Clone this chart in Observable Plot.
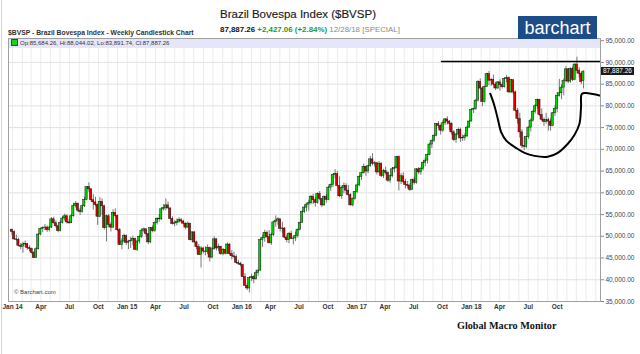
<!DOCTYPE html>
<html><head><meta charset="utf-8">
<script src="https://cdn.jsdelivr.net/npm/d3@7"></script>
<script src="https://cdn.jsdelivr.net/npm/@observablehq/plot@0.6"></script>
<style>
body{margin:0;background:#fff;font-family:"Liberation Sans",Arial,sans-serif;}
#wrap{position:relative;width:640px;height:354px;overflow:hidden;background:#fff;}
#wrap svg{position:absolute;left:0;top:0;}
.abs{position:absolute;white-space:nowrap;}
</style></head><body><div id="wrap"></div>
<script>
// Weekly OHLC of the Bovespa index, in thousands of points (one candle per week, Dec 30 2013 ... Dec 24 2018)
const open = [
51.5,51.0,49.3,49.2,47.8,47.6,48.1,48.2,47.3,47.1,46.2,45.0,47.0,50.4,51.7,51.9,52.0,51.4,52.0,53.9,53.0,52.3,51.2,53.1,54.1,54.6,53.2,53.0,54.6,57.0,57.5,55.9,55.6,56.9,58.4,61.3,60.8,58.3,57.8,57.2,54.5,57.9,56.9,51.9,54.6,52.6,52.0,55.4,54.7,51.4,48.0,48.8,
50.1,48.5,48.8,49.0,49.4,46.9,48.8,49.9,51.3,51.6,50.5,48.6,51.9,51.2,53.1,54.0,53.9,56.2,56.5,57.1,56.4,54.0,52.8,53.0,53.3,53.7,53.4,52.9,52.0,52.9,49.1,50.9,48.6,47.5,45.7,47.2,46.5,46.4,47.3,45.1,47.0,49.3,47.2,47.6,45.9,46.9,46.0,48.1,45.9,45.4,45.2,43.9,
43.7,43.4,40.6,38.6,38.0,40.4,40.6,40.1,41.5,42.1,49.1,49.6,50.8,49.8,48.4,50.3,53.2,53.6,53.9,51.7,51.8,49.7,49.1,50.6,49.4,49.5,50.1,51.5,53.1,55.6,56.6,57.3,57.6,59.1,58.3,57.7,59.7,58.6,57.1,59.0,58.4,61.2,61.8,64.1,64.3,61.6,59.2,61.1,61.6,60.5,59.5,57.1,58.6,
60.2,61.7,63.7,64.5,66.0,64.9,66.1,67.7,66.7,66.8,64.7,66.7,63.9,65.0,64.6,62.8,63.8,65.4,65.7,68.2,62.6,63.8,62.5,61.8,61.6,60.7,62.9,62.3,65.4,64.7,65.5,66.9,67.4,68.7,71.1,71.9,73.1,75.8,75.4,74.3,76.0,76.9,76.4,75.9,73.9,72.2,73.4,74.5,72.5,72.6,73.0,75.0,
76.4,79.1,79.3,81.2,85.5,84.0,80.9,84.4,87.3,85.8,86.0,84.9,84.0,85.4,84.8,84.3,86.2,86.4,83.1,85.9,83.1,78.9,77.0,73.9,70.8,70.6,72.8,75.0,76.6,78.6,79.9,81.4,77.9,76.8,76.3,76.7,76.4,75.4,78.3,79.3,82.3,82.9,84.2,85.7,88.4,85.6,88.5,86.0,89.5,88.1,87.4,85.684
];
const high = [
51.7,51.3,50.2,49.6,48.3,48.6,48.9,48.3,47.8,47.3,46.5,47.4,50.6,51.8,52.2,52.7,52.4,52.4,54.3,54.4,53.6,52.6,53.5,54.6,55.1,55.0,53.9,55.0,57.6,58.0,57.6,56.4,57.2,59.0,61.4,62.3,61.0,59.6,59.0,57.4,58.9,58.6,57.2,54.9,55.0,53.1,56.1,56.3,54.9,51.8,49.5,50.5,
50.3,49.0,49.8,50.0,49.6,49.1,50.1,51.7,51.9,51.7,50.6,52.0,52.4,53.3,54.3,55.0,56.6,57.3,58.6,57.9,56.6,54.5,53.6,54.0,54.3,54.1,53.7,53.1,53.3,53.0,51.0,51.0,48.9,48.1,47.6,47.5,47.6,48.0,47.5,47.5,49.9,49.4,48.2,47.7,47.2,47.0,48.5,48.3,46.7,46.4,45.7,44.5,
44.0,43.4,41.4,39.2,40.6,41.3,40.9,42.1,42.3,49.4,50.3,51.4,51.2,51.3,50.7,53.4,54.7,54.3,54.0,53.2,52.0,50.3,50.8,51.2,49.9,51.0,51.7,53.3,55.9,57.0,57.6,58.3,59.4,59.7,58.9,60.0,60.3,58.7,59.3,59.6,61.5,62.0,64.3,65.3,64.9,63.7,61.5,62.3,62.1,61.7,59.8,58.8,60.3,
62.0,63.9,64.6,66.6,66.1,66.3,68.4,69.0,67.2,67.0,67.2,66.9,65.4,65.9,64.8,64.1,65.8,66.1,68.4,68.5,64.4,64.6,63.1,62.6,62.1,63.2,63.5,65.6,65.8,65.8,67.2,68.0,68.9,71.4,72.2,73.5,75.9,76.4,75.6,76.6,77.0,77.5,76.6,76.1,74.3,73.6,74.9,74.9,73.3,73.6,75.3,76.6,
79.3,79.5,81.5,85.8,86.2,84.3,84.6,87.5,87.9,86.3,87.1,85.4,85.6,86.0,85.3,86.5,87.0,86.6,86.1,86.0,83.4,79.4,78.3,74.5,72.8,73.0,75.2,77.0,79.0,80.3,81.6,81.5,79.3,77.2,78.3,77.2,77.0,78.4,80.0,83.0,86.1,84.8,86.2,89.0,88.6,88.8,88.9,89.7,91.2,88.8,87.7,88.044
];
const low = [
50.2,49.1,48.9,47.6,46.9,46.1,47.4,46.8,46.5,45.9,44.9,44.9,46.9,50.1,50.9,51.3,50.9,51.0,51.8,52.8,51.9,50.8,51.0,52.8,53.5,52.8,52.7,52.9,54.4,56.5,55.5,54.8,55.3,56.6,58.2,60.1,57.9,56.0,56.8,52.5,54.3,54.8,51.4,48.7,52.0,51.0,51.8,54.2,51.1,47.9,46.9,48.5,
47.9,46.9,47.2,47.8,46.7,46.5,48.2,49.5,50.8,49.8,48.1,48.3,50.8,50.9,52.6,53.2,53.6,55.8,55.9,56.3,53.8,52.6,52.2,52.4,53.0,53.0,52.6,51.5,51.8,48.9,48.5,48.4,46.9,45.6,42.7,45.9,45.5,45.8,44.1,44.8,46.8,46.6,46.5,45.6,45.5,45.7,45.9,45.6,44.6,44.8,43.7,43.3,
43.0,40.5,38.5,37.5,37.0,39.6,39.1,39.9,40.8,42.0,47.4,48.6,49.4,48.2,47.9,49.9,52.1,52.5,51.0,50.7,49.5,48.5,48.3,49.2,48.0,48.8,49.6,51.2,52.9,55.2,55.6,55.8,57.2,57.3,56.7,57.4,58.2,56.6,56.9,57.6,58.2,60.3,61.2,63.2,61.3,58.9,58.5,59.8,59.5,59.2,57.0,56.8,58.3,
59.8,61.4,62.8,64.3,63.8,64.4,65.9,66.2,65.9,64.1,64.4,63.5,63.3,64.1,62.4,62.2,63.4,64.6,65.5,60.4,61.9,62.1,60.9,60.9,60.3,60.5,61.8,62.0,64.2,64.0,65.0,66.0,66.6,68.5,70.2,71.6,72.9,74.7,73.3,73.9,75.5,75.6,74.3,73.3,71.8,71.4,72.8,71.6,71.8,71.9,72.7,74.8,
76.3,78.2,78.9,80.9,83.7,79.8,80.7,84.2,84.7,84.5,84.6,83.5,83.8,83.4,83.9,84.1,85.3,82.9,82.8,82.6,78.6,75.8,72.6,70.2,69.7,70.1,72.3,74.0,76.2,78.1,79.3,77.6,76.4,75.3,75.8,74.2,74.2,75.2,77.6,78.4,82.0,81.4,82.3,85.3,85.1,85.2,85.6,85.8,87.4,86.4,84.9,83.892
];
const close = [
51.0,49.3,49.2,47.8,47.6,48.1,48.2,47.3,47.1,46.2,45.0,47.0,50.4,51.7,51.9,52.0,51.4,52.0,53.9,53.0,52.3,51.2,53.1,54.1,54.6,53.2,53.0,54.6,57.0,57.5,55.9,55.6,56.9,58.4,61.3,60.8,58.3,57.8,57.2,54.5,57.9,56.9,51.9,54.6,52.6,52.0,55.4,54.7,51.4,48.0,48.8,50.1,
48.5,48.8,49.0,49.4,46.9,48.8,49.9,51.3,51.6,50.5,48.6,51.9,51.2,53.1,54.0,53.9,56.2,56.5,57.1,56.4,54.0,52.8,53.0,53.3,53.7,53.4,52.9,52.0,52.9,49.1,50.9,48.6,47.5,45.7,47.2,46.5,46.4,47.3,45.1,47.0,49.3,47.2,47.6,45.9,46.9,46.0,48.1,45.9,45.4,45.2,43.9,43.7,
43.4,40.6,38.6,38.0,40.4,40.6,40.1,41.5,42.1,49.1,49.6,50.8,49.8,48.4,50.3,53.2,53.6,53.9,51.7,51.8,49.7,49.1,50.6,49.4,49.5,50.1,51.5,53.1,55.6,56.6,57.3,57.6,59.1,58.3,57.7,59.7,58.6,57.1,59.0,58.4,61.2,61.8,64.1,64.3,61.6,59.2,61.1,61.6,60.5,59.5,57.1,58.6,60.2,
61.7,63.7,64.5,66.0,64.9,66.1,67.7,66.7,66.8,64.7,66.7,63.9,65.0,64.6,62.8,63.8,65.4,65.7,68.2,62.6,63.8,62.5,61.8,61.6,60.7,62.9,62.3,65.4,64.7,65.5,66.9,67.4,68.7,71.1,71.9,73.1,75.8,75.4,74.3,76.0,76.9,76.4,75.9,73.9,72.2,73.4,74.5,72.5,72.6,73.0,75.0,76.4,
79.1,79.3,81.2,85.5,84.0,80.9,84.4,87.3,85.8,86.0,84.9,84.0,85.4,84.8,84.3,86.2,86.4,83.1,85.9,83.1,78.9,77.0,73.9,70.8,70.6,72.8,75.0,76.6,78.6,79.9,81.4,77.9,76.8,76.3,76.7,76.4,75.4,78.3,79.3,82.3,82.9,84.2,85.7,88.4,85.6,88.5,86.0,89.5,88.1,87.4,85.460,87.887
];

// Axis ticks and labels
const yTicks = [35000,40000,45000,50000,55000,60000,65000,70000,75000,80000,85000,90000,95000];
const xTickDates = ["2014-01-01","2014-04-01","2014-07-01","2014-10-01","2015-01-01","2015-04-01","2015-07-01","2015-10-01","2016-01-01","2016-04-01","2016-07-01","2016-10-01","2017-01-01","2017-04-01","2017-07-01","2017-10-01","2018-01-01","2018-04-01","2018-07-01","2018-10-01"].map(s => new Date(s));
const xTickLabels = ["Jan 14","Apr","Jul","Oct","Jan 15","Apr","Jul","Oct","Jan 16","Apr","Jul","Oct","Jan 17","Apr","Jul","Oct","Jan 18","Apr","Jul","Oct"];

// Hand-drawn annotations (in data coordinates)
const resistanceDates = ["2017-09-28","2019-02-13"];
const resistanceValues = [90200, 90200];
const cupDates = ["2018-03-02","2018-03-15","2018-03-26","2018-04-06","2018-04-22","2018-05-24","2018-06-19","2018-07-21","2018-09-01","2018-10-03","2018-11-04","2018-11-25","2018-12-11","2018-12-16","2018-12-19","2019-01-07","2019-02-13"];
const cupValues = [82800,80100,77000,73900,72000,70300,69200,68500,68300,69200,71300,73300,75900,79700,82800,82900,82400];

const lastClose = 87887.26;

// ---- build tables ----
const weeks = d3.utcMonday.range(new Date(Date.UTC(2013,11,30)), new Date(Date.UTC(2018,11,25)));
if ([open,high,low,close].some(a => a.length !== weeks.length)) throw new Error("length mismatch " + weeks.length + " " + [open,high,low,close].map(a=>a.length));
const candles = weeks.map((date, i) => ({date, open: open[i]*1000, high: high[i]*1000, low: low[i]*1000, close: close[i]*1000}));
const resistance = resistanceDates.map((d, i) => ({date: new Date(d), value: resistanceValues[i]}));
const cup = cupDates.map((d, i) => ({date: new Date(d), value: cupValues[i]}));
const labelMap = new Map(xTickDates.map((d, i) => [+d, xTickLabels[i]]));
const monthLines = d3.utcMonth.range(new Date("2014-01-01"), new Date("2019-02-02"));

const chart = Plot.plot({
  width: 640, height: 354,
  marginLeft: 8, marginRight: 40, marginTop: 38, marginBottom: 53,
  x: {type: "utc", domain: [new Date("2013-12-19"), new Date("2019-02-16")], axis: null},
  y: {domain: [35000, 95500], axis: null},
  color: {type: "identity"},
  style: {fontFamily: "'Liberation Sans', Arial, sans-serif", background: "transparent", overflow: "visible"},
  marks: [
    Plot.ruleX(monthLines, {stroke: "#ececec", strokeWidth: 1}),
    Plot.ruleY(yTicks, {stroke: "#e2e2e2", strokeWidth: 1}),
    Plot.ruleX(candles, {x: "date", y1: "low", y2: "high", stroke: "#6a6a6a", strokeWidth: 0.9}),
    Plot.rect(candles, {
      x1: d => d3.utcDay.offset(d.date, -3.4), x2: d => d3.utcDay.offset(d.date, 3.4),
      y1: "open", y2: "close",
      fill: d => d.close >= d.open ? "#00d800" : "#e00000",
      stroke: "#161616", strokeWidth: 0.5
    }),
    Plot.line(resistance, {x: "date", y: "value", stroke: "#000", strokeWidth: 1.6}),
    Plot.line(cup, {x: "date", y: "value", stroke: "#000", strokeWidth: 2, curve: "catmull-rom"}),
    Plot.frame({stroke: "#a0a0a0"}),
    Plot.axisX(xTickDates, {tickSize: 0, tickPadding: 3, tickFormat: d => labelMap.get(+d), fontSize: 6.5, fontWeight: "bold", fill: "#333"}),
    Plot.axisY(yTicks, {anchor: "right", tickSize: 3, tickPadding: 2, tickFormat: d3.format(",.2f"), fontSize: 6.5, fill: "#444", stroke: "#888"})
  ]
});

const wrap = document.getElementById("wrap");
wrap.appendChild(chart);

function addDiv(html, css) {
  const el = document.createElement("div");
  el.className = "abs";
  el.innerHTML = html;
  Object.assign(el.style, css);
  wrap.appendChild(el);
  return el;
}
// left page edge line
addDiv("", {left: "1px", top: "0px", width: "1px", height: "354px", background: "#d4d4d4"});
// title
addDiv("Brazil Bovespa Index ($BVSP)", {left: "220px", top: "8px", fontSize: "11.5px", color: "#1a1a1a", webkitTextStroke: "0.15px #1a1a1a"});
addDiv('<b style="color:#111">87,887.26</b> <b style="color:#1f9a2a">+2,427.06 (+2.84%)</b> <span style="color:#8a8a8a">12/28/18 [SPECIAL]</span>',
  {left: "220px", top: "25px", fontSize: "7.9px"});
addDiv("$BVSP - Brazil Bovespa Index - Weekly Candlestick Chart", {left: "8px", top: "29px", fontSize: "6.8px", fontWeight: "bold", color: "#333"});
// logo
addDiv('barchart', {left: "518px", top: "16px", width: "79px", height: "26px", background: "#1c4d88", color: "#fff",
  fontSize: "18px", lineHeight: "25px", textAlign: "center"});
// header band
addDiv('<span style="display:inline-block;width:5px;height:5px;background:#19d119;border:1px solid #0a6a0a;vertical-align:-1px;margin-right:2px"></span>Op:85,684.26, Hi:88,044.02, Lo:83,891.74, Cl:87,887.26',
  {left: "9px", top: "39px", width: "591px", height: "9px", background: "#e6e6fa", fontSize: "6px", lineHeight: "9px", color: "#333", paddingLeft: "2px", boxSizing: "border-box"});
// copyright
addDiv("© Barchart.com", {left: "14px", top: "289px", fontSize: "6px", color: "#444"});
// last price label, positioned with the chart's own y scale
const py = chart.scale("y").apply(lastClose);
addDiv("87,887.26", {left: "601px", top: (py - 4) + "px", height: "8px", lineHeight: "8px", background: "#1a1a1a", color: "#fff", fontSize: "6.5px", padding: "0 2px"});
// footer
addDiv("Global Macro Monitor", {left: "457px", top: "320px", fontSize: "10.2px", fontWeight: "bold", fontFamily: "'Liberation Serif', 'Times New Roman', serif", color: "#111"});
</script>
</body></html>
